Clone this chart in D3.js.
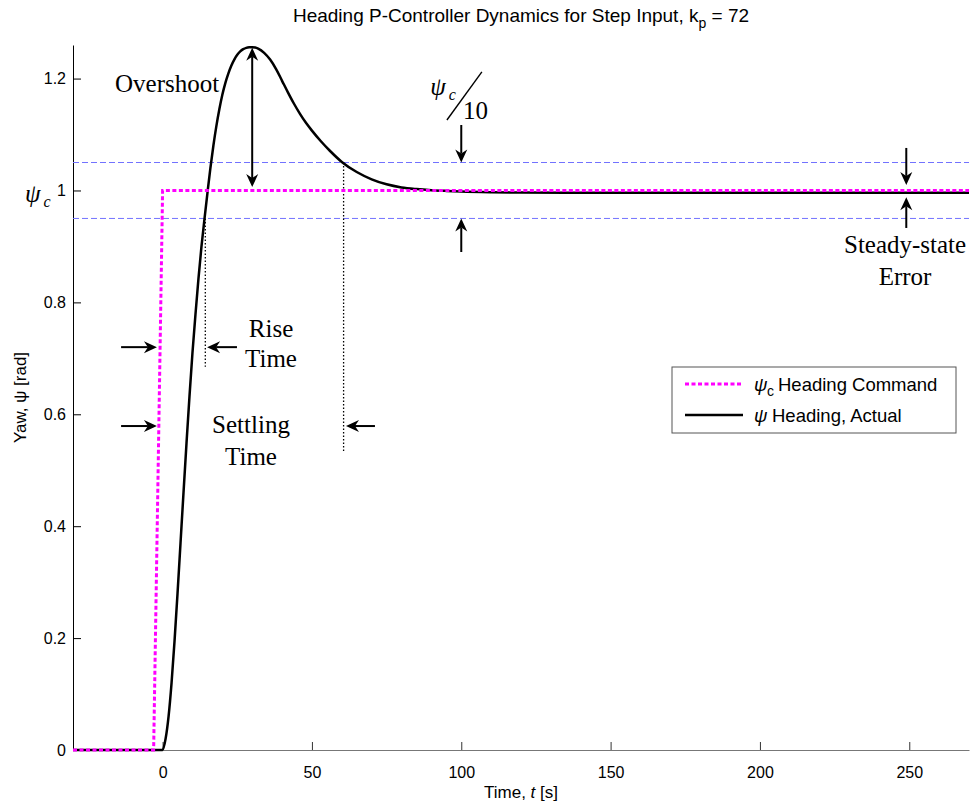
<!DOCTYPE html>
<html>
<head>
<meta charset="utf-8">
<script src="https://cdn.jsdelivr.net/npm/d3@7"></script>
<style>
body { margin: 0; background: #fff; }
</style>
</head>
<body>
<script>
// heading command (step) and actual heading response
var tCmd = [-30, -3, 0, 270];
var psiCmd = [0, 0, 1, 1];

var tAct = [-30, 0, 1, 2, 3, 4, 5, 6, 7, 8, 9, 10, 11, 12, 13, 14, 15, 16, 17, 18, 19, 20,
  21, 22, 23, 24, 25, 26, 27, 28, 29, 30, 31, 32, 34, 36, 38, 40, 42, 44, 46, 48, 50, 53, 56, 60,
  65, 70, 75, 80, 85, 90, 95, 100, 110, 120, 135, 150, 270];
var psiAct = [0, 0, 0.02, 0.06, 0.12, 0.195, 0.28, 0.37, 0.46, 0.548, 0.632, 0.71, 0.778, 0.842, 0.899, 0.948, 0.995, 1.04, 1.08, 1.115, 1.145, 1.171,
  1.192, 1.209, 1.223, 1.234, 1.2425, 1.2485, 1.2525, 1.2548, 1.2558, 1.256, 1.2555, 1.2535, 1.246, 1.234, 1.217, 1.196, 1.175, 1.155, 1.137, 1.121, 1.107, 1.088, 1.071, 1.051,
  1.033, 1.020, 1.011, 1.0055, 1.0025, 1.0005, 0.9992, 0.9982, 0.997, 0.9963, 0.9959, 0.9958, 0.9958];

var xTicks = [0, 50, 100, 150, 200, 250];
var yTicks = [0, 0.2, 0.4, 0.6, 0.8, 1, 1.2];
var tolBand = [0.95, 1.05]; // psi_c +/- psi_c/20 band

var riseTime = 14.3, settleTime = 60.6, peakTime = 30, peakVal = 1.255;

var width = 977, height = 809;
var sans = "'Liberation Sans', Arial, sans-serif",
  serif = "'Liberation Serif', 'Times New Roman', serif";

var x = d3.scaleLinear().domain([-30, 270]).range([73, 969]);
var y = d3.scaleLinear().domain([0, 1.26]).range([750, 45]);

var svg = d3.select("body").append("svg")
  .attr("width", width).attr("height", height)
  .style("font-family", sans);

//Axes
var xAxis = svg.append("g").attr("transform", "translate(0,750)")
  .call(d3.axisBottom(x).tickValues(xTicks).tickSizeInner(-8).tickSizeOuter(0).tickPadding(17));
xAxis.select(".domain").attr("stroke", "#777");
xAxis.selectAll(".tick line").attr("stroke", "#333");
xAxis.selectAll("text").attr("font-size", 16).attr("font-family", sans).attr("fill", "#000");

var yAxis = svg.append("g").attr("transform", "translate(73,0)")
  .call(d3.axisLeft(y).tickValues(yTicks).tickSizeInner(-8).tickSizeOuter(0).tickPadding(7)
    .tickFormat(function(d) { return d3.format("")(+d.toFixed(1)); }));
yAxis.select(".domain").attr("stroke", "#000");
yAxis.selectAll("text").attr("font-size", 16).attr("font-family", sans).attr("fill", "#000");

//Tolerance band
svg.selectAll(".band").data(tolBand).enter().append("line")
  .attr("class", "band")
  .attr("x1", x(-30)).attr("x2", x(270))
  .attr("y1", function(d) { return y(d); }).attr("y2", function(d) { return y(d); })
  .attr("stroke", "#7272ff").attr("stroke-width", 1).attr("stroke-dasharray", "6,3");

//Dotted markers for rise and settling
svg.append("line").attr("x1", x(riseTime)).attr("x2", x(riseTime))
  .attr("y1", y(0.95)).attr("y2", y(0.685))
  .attr("stroke", "#000").attr("stroke-width", 1.3).attr("stroke-dasharray", "1.5,2");
svg.append("line").attr("x1", x(settleTime)).attr("x2", x(settleTime))
  .attr("y1", y(1.05)).attr("y2", y(0.533))
  .attr("stroke", "#000").attr("stroke-width", 1.3).attr("stroke-dasharray", "1.5,2");

//Series
var line = d3.line().x(function(d) { return x(d[0]); }).y(function(d) { return y(d[1]); });

svg.append("path").datum(d3.zip(tAct, psiAct))
  .attr("d", line.curve(d3.curveMonotoneX))
  .attr("fill", "none").attr("stroke", "#000").attr("stroke-width", 2.5);

svg.append("path").datum(d3.zip(tCmd, psiCmd))
  .attr("d", line.curve(d3.curveLinear))
  .attr("fill", "none").attr("stroke", "#ff00ff").attr("stroke-width", 3).attr("stroke-dasharray", "4,2.5");

//Arrow helpers
function head(g, px, py, a) {
  var L = 13, W = 6, N = 9, c = Math.cos(a), s = Math.sin(a);
  var pts = [[0, 0], [-L, -W], [-N, 0], [-L, W]].map(function(p) {
    return [px + p[0] * c - p[1] * s, py + p[0] * s + p[1] * c];
  });
  g.append("path").attr("d", "M" + pts.join("L") + "Z").attr("fill", "#000");
}
function arrow(x1, y1, x2, y2, both) {
  var g = svg.append("g");
  var a = Math.atan2(y2 - y1, x2 - x1), c = Math.cos(a), s = Math.sin(a);
  var sx = both ? x1 + 9 * c : x1, sy = both ? y1 + 9 * s : y1;
  g.append("line").attr("x1", sx).attr("y1", sy).attr("x2", x2 - 9 * c).attr("y2", y2 - 9 * s)
    .attr("stroke", "#000").attr("stroke-width", 2);
  head(g, x2, y2, a);
  if (both) head(g, x1, y1, a + Math.PI);
}

//Overshoot
arrow(x(peakTime), y(peakVal), x(peakTime), y(1.006), true);
// psi_c/10 band markers
arrow(x(100), y(1.117), x(100), y(1.05));
arrow(x(100), y(0.89), x(100), y(0.95));
// steady-state error
arrow(x(249), y(1.076), x(249), y(1.01));
arrow(x(249), y(0.933), x(249), y(0.988));
// rise time
arrow(x(-13.9), y(0.72), x(-1.9), y(0.72));
arrow(x(24.9), y(0.72), x(14.9), y(0.72));
// settling time
arrow(x(-13.9), y(0.579), x(-1.9), y(0.579));
arrow(x(71.1), y(0.579), x(61.4), y(0.579));

//Annotation text
function label(t, v, txt, anchor) {
  return svg.append("text").attr("x", x(t)).attr("y", y(v))
    .attr("text-anchor", anchor || "middle")
    .attr("font-family", serif).attr("font-size", 25).text(txt);
}
label(1.5, 1.176, "Overshoot");
label(36.3, 0.738, "Rise");
label(36.3, 0.685, "Time");
label(29.6, 0.567, "Settling");
label(29.6, 0.509, "Time");
label(248.6, 0.888, "Steady-state");
label(248.6, 0.831, "Error");

// psi_c / 10
var frac = svg.append("text").attr("x", x(89.6)).attr("y", y(1.17))
  .attr("font-family", serif).attr("font-size", 25).attr("font-style", "italic");
frac.append("tspan").text("\u03C8");
frac.append("tspan").attr("font-size", 16).attr("dx", 3).attr("dy", 5).text("c");
svg.append("line").attr("x1", x(95.2)).attr("y1", y(1.126)).attr("x2", x(106.9)).attr("y2", y(1.212))
  .attr("stroke", "#000").attr("stroke-width", 1.4);
label(100.6, 1.128, "10", "start");

// psi_c next to the y tick "1"
var psiC = svg.append("text").attr("x", 25).attr("y", y(1) + 12)
  .attr("font-family", serif).attr("font-size", 25).attr("font-style", "italic");
psiC.append("tspan").text("\u03C8");
psiC.append("tspan").attr("font-size", 16).attr("dx", 3).attr("dy", 5).text("c");

//Title and axis labels
var title = svg.append("text").attr("x", (x(-30) + x(270)) / 2).attr("y", 22)
  .attr("text-anchor", "middle").attr("font-size", 19).attr("fill", "#000");
title.append("tspan").text("Heading P-Controller Dynamics for Step Input, k");
title.append("tspan").attr("font-size", 14).attr("dy", 6).text("p");
title.append("tspan").attr("dy", -6).text(" = 72");

var xl = svg.append("text").attr("x", (x(-30) + x(270)) / 2).attr("y", 798)
  .attr("text-anchor", "middle").attr("font-size", 17);
xl.append("tspan").text("Time, ");
xl.append("tspan").attr("font-style", "italic").text("t");
xl.append("tspan").text(" [s]");

svg.append("text").attr("transform", "translate(26," + (y(0) + y(1.26)) / 2 + ") rotate(-90)")
  .attr("text-anchor", "middle").attr("font-size", 17).text("Yaw, \u03C8 [rad]");

//Legend
var leg = svg.append("g").attr("transform", "translate(672,367)");
leg.append("rect").attr("width", 284).attr("height", 66)
  .attr("fill", "#fff").attr("stroke", "#555").attr("stroke-width", 1);
leg.append("line").attr("x1", 13).attr("x2", 71).attr("y1", 17).attr("y2", 17)
  .attr("stroke", "#ff00ff").attr("stroke-width", 3).attr("stroke-dasharray", "4,2.5");
leg.append("line").attr("x1", 13).attr("x2", 71).attr("y1", 48).attr("y2", 48)
  .attr("stroke", "#000").attr("stroke-width", 2.5);

var l1 = leg.append("g").attr("font-size", 18.5);
l1.append("text").attr("x", 82).attr("y", 24).attr("font-style", "italic").text("\u03C8");
l1.append("text").attr("x", 95).attr("y", 29).attr("font-size", 14).text("c");
l1.append("text").attr("x", 106).attr("y", 24).text("Heading Command");

var l2 = leg.append("g").attr("font-size", 18.5);
l2.append("text").attr("x", 82).attr("y", 55).attr("font-style", "italic").text("\u03C8");
l2.append("text").attr("x", 100).attr("y", 55).text("Heading, Actual");
</script>
</body>
</html>
